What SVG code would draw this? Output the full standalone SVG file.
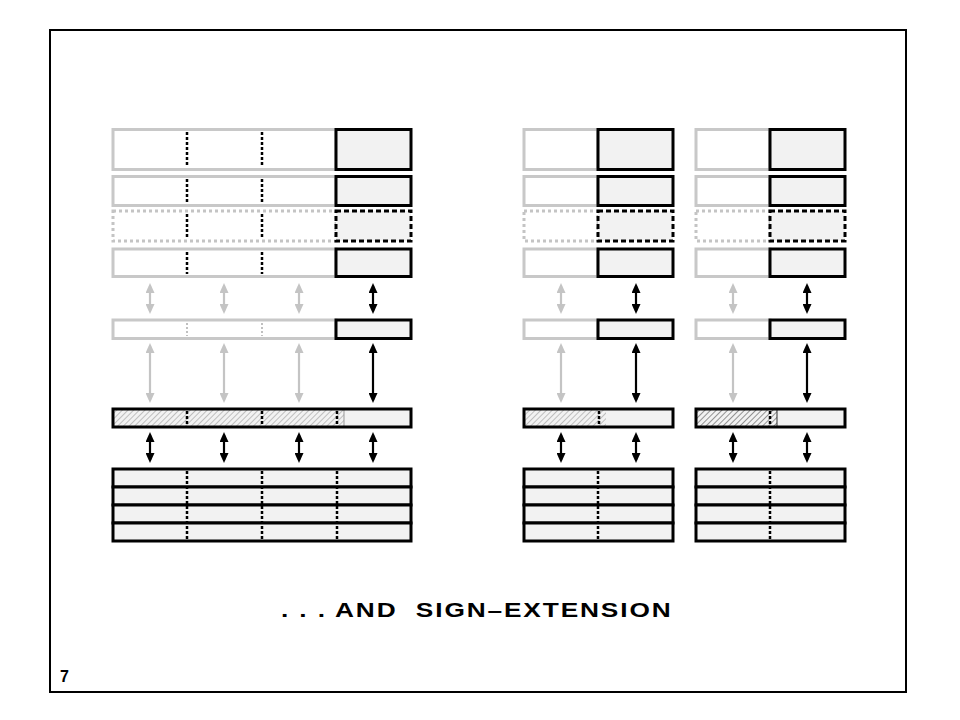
<svg xmlns="http://www.w3.org/2000/svg" width="960" height="720" viewBox="0 0 960 720">
<style>
.g{fill:#fff;stroke:#c8c8c8;stroke-width:3}
.b{fill:#f2f2f2;stroke:#000;stroke-width:3}
.gd{fill:#fff;stroke:#c4c4c4;stroke-width:3;stroke-dasharray:3 3}
.bd{fill:#f2f2f2;stroke:#000;stroke-width:3;stroke-dasharray:5 3}
.o{fill:none;stroke:#000;stroke-width:3}
.f{fill:#f2f2f2;stroke:none}
.div{stroke:#000;stroke-width:2.5;stroke-dasharray:3 2}
.divg{stroke:#c0c0c0;stroke-width:2;stroke-dasharray:2 2}
.ab{stroke:#000;stroke-width:2.2;marker-start:url(#mb);marker-end:url(#mb)}
.ag{stroke:#c4c4c4;stroke-width:2.2;marker-start:url(#mg);marker-end:url(#mg)}
.t{font-family:"Liberation Sans",Arial,sans-serif;font-weight:bold;fill:#000}
</style>
<defs>
<marker id="mb" markerUnits="userSpaceOnUse" markerWidth="10" markerHeight="9" refX="7" refY="4.5" orient="auto-start-reverse"><path d="M0,0 L10,4.5 L0,9 z" fill="#000"/></marker>
<marker id="mg" markerUnits="userSpaceOnUse" markerWidth="10" markerHeight="9" refX="7" refY="4.5" orient="auto-start-reverse"><path d="M0,0 L10,4.5 L0,9 z" fill="#c4c4c4"/></marker>
<pattern id="hl" width="4" height="4" patternUnits="userSpaceOnUse" patternTransform="rotate(45)"><rect width="4" height="4" fill="#f2f2f2"/><line x1="0" y1="0" x2="0" y2="4" stroke="#8a8a8a" stroke-width="1"/></pattern>
<pattern id="hd" width="4" height="4" patternUnits="userSpaceOnUse" patternTransform="rotate(45)"><rect width="4" height="4" fill="#f2f2f2"/><line x1="0" y1="0" x2="0" y2="4" stroke="#333" stroke-width="1"/></pattern>
</defs>
<rect x="50" y="30" width="856" height="662" fill="#fff" stroke="#000" stroke-width="2"/>

<g id="left-registers">
<rect class="g" x="113" y="129.5" width="223" height="40"/><rect class="b" x="336" y="129.5" width="75" height="40"/>
<rect class="g" x="113" y="176.5" width="223" height="29"/><rect class="b" x="336" y="176.5" width="75" height="29"/>
<rect class="gd" x="113" y="211" width="223" height="30"/><rect class="bd" x="336" y="211" width="75" height="30"/>
<rect class="g" x="113" y="249" width="223" height="27.5"/><rect class="b" x="336" y="249" width="75" height="27.5"/>
<path class="div" d="M187,132 V167 M262,132 V167 M187,179 V203 M262,179 V203 M187,214 V239 M262,214 V239 M187,252 V274 M262,252 V274"/>
</g>
<g id="left-bus">
<rect class="g" x="113" y="320" width="223" height="18.5"/><rect class="b" x="336" y="320" width="75" height="18.5"/>
<path class="divg" d="M187,323 V336 M262,323 V336"/>
</g>
<g id="left-latch">
<rect class="f" x="113" y="409" width="298" height="18"/>
<rect x="113" y="409" width="231" height="18" fill="url(#hl)"/>
<line x1="344" y1="410" x2="344" y2="426" stroke="#999" stroke-width="1"/>
<rect class="o" x="113" y="409" width="298" height="18"/>
<path class="div" d="M187,411 V425 M262,411 V425 M337,411 V425"/>
</g>
<g id="left-memory">
<rect class="b" x="113" y="469" width="298" height="18"/>
<rect class="b" x="113" y="487" width="298" height="18"/>
<rect class="b" x="113" y="505" width="298" height="18"/>
<rect class="b" x="113" y="523" width="298" height="18"/>
<path class="div" d="M187,471 V539 M262,471 V539 M337,471 V539"/>
</g>

<g id="mid-registers">
<rect class="g" x="524" y="129.5" width="74" height="40"/><rect class="b" x="598" y="129.5" width="75" height="40"/>
<rect class="g" x="524" y="176.5" width="74" height="29"/><rect class="b" x="598" y="176.5" width="75" height="29"/>
<rect class="gd" x="524" y="211" width="74" height="30"/><rect class="bd" x="598" y="211" width="75" height="30"/>
<rect class="g" x="524" y="249" width="74" height="27.5"/><rect class="b" x="598" y="249" width="75" height="27.5"/>
</g>
<g id="mid-bus">
<rect class="g" x="524" y="320" width="74" height="18.5"/><rect class="b" x="598" y="320" width="75" height="18.5"/>
</g>
<g id="mid-latch">
<rect class="f" x="524" y="409" width="149" height="18"/>
<rect x="524" y="409" width="82" height="18" fill="url(#hl)"/>
<rect class="o" x="524" y="409" width="149" height="18"/>
<path class="div" d="M599,411 V425"/>
</g>
<g id="mid-memory">
<rect class="b" x="524" y="469" width="149" height="18"/>
<rect class="b" x="524" y="487" width="149" height="18"/>
<rect class="b" x="524" y="505" width="149" height="18"/>
<rect class="b" x="524" y="523" width="149" height="18"/>
<path class="div" d="M598,471 V539"/>
</g>

<g id="right-registers">
<rect class="g" x="696" y="129.5" width="74" height="40"/><rect class="b" x="770" y="129.5" width="75" height="40"/>
<rect class="g" x="696" y="176.5" width="74" height="29"/><rect class="b" x="770" y="176.5" width="75" height="29"/>
<rect class="gd" x="696" y="211" width="74" height="30"/><rect class="bd" x="770" y="211" width="75" height="30"/>
<rect class="g" x="696" y="249" width="74" height="27.5"/><rect class="b" x="770" y="249" width="75" height="27.5"/>
</g>
<g id="right-bus">
<rect class="g" x="696" y="320" width="74" height="18.5"/><rect class="b" x="770" y="320" width="75" height="18.5"/>
</g>
<g id="right-latch">
<rect class="f" x="696" y="409" width="149" height="18"/>
<rect x="696" y="409" width="81" height="18" fill="url(#hd)"/>
<line x1="777" y1="410" x2="777" y2="426" stroke="#333" stroke-width="1"/>
<rect class="o" x="696" y="409" width="149" height="18"/>
<path class="div" d="M770,411 V425"/>
</g>
<g id="right-memory">
<rect class="b" x="696" y="469" width="149" height="18"/>
<rect class="b" x="696" y="487" width="149" height="18"/>
<rect class="b" x="696" y="505" width="149" height="18"/>
<rect class="b" x="696" y="523" width="149" height="18"/>
<path class="div" d="M770,471 V539"/>
</g>

<g id="connectors">
<line class="ag" x1="150" y1="286" x2="150" y2="311"/>
<line class="ag" x1="224" y1="286" x2="224" y2="311"/>
<line class="ag" x1="299" y1="286" x2="299" y2="311"/>
<line class="ab" x1="373" y1="286" x2="373" y2="311"/>
<line class="ag" x1="150" y1="346" x2="150" y2="400"/>
<line class="ag" x1="224" y1="346" x2="224" y2="400"/>
<line class="ag" x1="299" y1="346" x2="299" y2="400"/>
<line class="ab" x1="373" y1="346" x2="373" y2="400"/>
<line class="ab" x1="150" y1="435" x2="150" y2="460"/>
<line class="ab" x1="224" y1="435" x2="224" y2="460"/>
<line class="ab" x1="299" y1="435" x2="299" y2="460"/>
<line class="ab" x1="373" y1="435" x2="373" y2="460"/>

<line class="ag" x1="561" y1="286" x2="561" y2="311"/>
<line class="ab" x1="636" y1="286" x2="636" y2="311"/>
<line class="ag" x1="561" y1="346" x2="561" y2="400"/>
<line class="ab" x1="636" y1="346" x2="636" y2="400"/>
<line class="ab" x1="561" y1="435" x2="561" y2="460"/>
<line class="ab" x1="636" y1="435" x2="636" y2="460"/>

<line class="ag" x1="733" y1="286" x2="733" y2="311"/>
<line class="ab" x1="807" y1="286" x2="807" y2="311"/>
<line class="ag" x1="733" y1="346" x2="733" y2="400"/>
<line class="ab" x1="807" y1="346" x2="807" y2="400"/>
<line class="ab" x1="733" y1="435" x2="733" y2="460"/>
<line class="ab" x1="807" y1="435" x2="807" y2="460"/>
</g>

<text class="t" transform="translate(281,617) scale(1.25,1)" font-size="21" letter-spacing="1.5" xml:space="preserve">. . . AND  SIGN–EXTENSION</text>
<text class="t" x="60" y="682" font-size="16">7</text>
</svg>
